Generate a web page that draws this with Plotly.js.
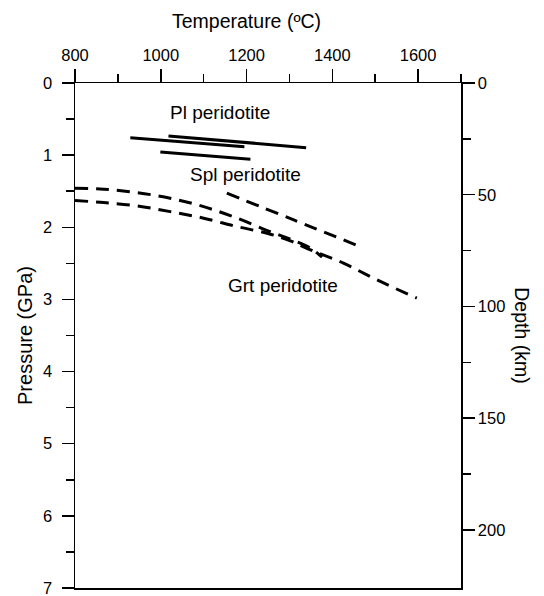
<!DOCTYPE html>
<html>
<head>
<meta charset="utf-8">
<script src="https://cdn.plot.ly/plotly-3.0.1.min.js"></script>
<style>html,body{margin:0;padding:0;background:#fff;}#chart{width:544px;height:596px;}</style>
</head>
<body>
<div id="chart"></div>
<script>
// Temperature ticks (ºC) and pressure ticks (GPa), depth ticks (km)
const tempTicks = [800, 1000, 1200, 1400, 1600];
const tempMinor = [900, 1100, 1300, 1500, 1700];
const presTicks = [0, 1, 2, 3, 4, 5, 6, 7];
const presMinor = [0.5, 1.5, 2.5, 3.5, 4.5, 5.5, 6.5];
const depthTicks = [0, 50, 100, 150, 200];
const depthMinor = [25, 75, 125, 175];

// Solid P-T lines
const pl1T = [929, 1195];
const pl1P = [0.758, 0.882];
const pl2T = [1018, 1339];
const pl2P = [0.734, 0.896];
const splT = [999, 1209];
const splP = [0.956, 1.057];

// Dashed boundaries
const bndAT = [800, 867, 945, 1022, 1100, 1178, 1255, 1302, 1349, 1376];
const bndAP = [1.459, 1.472, 1.520, 1.597, 1.714, 1.874, 2.060, 2.165, 2.290, 2.414];
const bndBT = [800, 867, 945, 1022, 1100, 1178, 1248, 1302, 1349, 1426, 1504, 1597];
const bndBP = [1.628, 1.658, 1.704, 1.783, 1.874, 1.991, 2.082, 2.189, 2.313, 2.498, 2.729, 2.982];
const bndCT = [1154, 1310, 1465];
const bndCP = [1.528, 1.898, 2.268];

const labels = ['Pl peridotite', 'Spl peridotite', 'Grt peridotite'];
const labelT = [1139, 1197, 1286];
const labelP = [0.41, 1.27, 2.80];

const FONT = 'Arial, "Liberation Sans", Helvetica, sans-serif';
const solid = {color: '#000', width: 3};
const dashed = {color: '#000', width: 3, dash: '13px,8px'};

const traces = [
  {x: pl1T, y: pl1P, mode: 'lines', line: solid},
  {x: pl2T, y: pl2P, mode: 'lines', line: solid},
  {x: splT, y: splP, mode: 'lines', line: solid},
  {x: bndAT, y: bndAP, mode: 'lines', line: Object.assign({shape: 'spline'}, dashed)},
  {x: bndBT, y: bndBP, mode: 'lines', line: Object.assign({shape: 'spline'}, dashed)},
  {x: bndCT, y: bndCP, mode: 'lines', line: Object.assign({shape: 'spline'}, dashed)},
  {x: [800], y: [0], yaxis: 'y2', mode: 'markers', marker: {opacity: 0}, hoverinfo: 'skip'}
];
traces.forEach(t => { t.showlegend = false; });

const annotations = labels.map((s, i) => ({
  x: labelT[i], y: labelP[i], xref: 'x', yref: 'y', text: s, showarrow: false,
  xanchor: 'center', yanchor: 'middle',
  font: {family: FONT, size: 19, color: '#000'}
}));
annotations.push({
  x: 1200, xref: 'x', y: 1 + (83 - 21) / 505.3, yref: 'paper', xanchor: 'center', yanchor: 'middle',
  text: 'Temperature (ºC)', showarrow: false,
  font: {family: FONT, size: 19.5, color: '#000'}
});
annotations.push({
  x: 1 + (522 - 460.7) / 386, xref: 'paper', y: 0.5, yref: 'paper', xanchor: 'center', yanchor: 'middle',
  text: 'Depth (km)', textangle: 90,
  showarrow: false, font: {family: FONT, size: 19.5, color: '#000'}
});

const axisCommon = {
  showgrid: false, zeroline: false, showline: true, linecolor: '#000', linewidth: 1.5,
  ticks: 'outside', tickcolor: '#000', tickwidth: 1.5, ticklabeloverflow: 'allow',
  tickfont: {family: FONT, size: 16.5, color: '#000'}
};

const layout = {
  width: 544, height: 596,
  margin: {l: 75, r: 83, t: 83, b: 8},
  paper_bgcolor: '#fff', plot_bgcolor: '#fff',
  showlegend: false,
  xaxis: Object.assign({}, axisCommon, {
    side: 'top', range: [800, 1700], tickmode: 'array', tickvals: tempTicks, ticklen: 13,
    mirror: true, ticklabelstandoff: 1,
    minor: {tickmode: 'array', tickvals: tempMinor, ticks: 'outside', ticklen: 8, tickcolor: '#000', tickwidth: 1.5}
  }),
  yaxis: Object.assign({}, axisCommon, {
    range: [7, 0], tickmode: 'array', tickvals: presTicks, ticklen: 12, mirror: true, ticklabelstandoff: 6,
    title: {text: 'Pressure (GPa)', font: {family: FONT, size: 20, color: '#000'}, standoff: 5},
    minor: {tickmode: 'array', tickvals: presMinor, ticks: 'outside', ticklen: 8, tickcolor: '#000', tickwidth: 1.5}
  }),
  yaxis2: Object.assign({}, axisCommon, {
    overlaying: 'y', side: 'right', range: [226, 0], tickmode: 'array', tickvals: depthTicks, ticklen: 12,
    minor: {tickmode: 'array', tickvals: depthMinor, ticks: 'outside', ticklen: 8, tickcolor: '#000', tickwidth: 1.5}
  }),
  annotations: annotations
};

Plotly.newPlot('chart', traces, layout, {staticPlot: true, displayModeBar: false});
</script>
</body>
</html>
